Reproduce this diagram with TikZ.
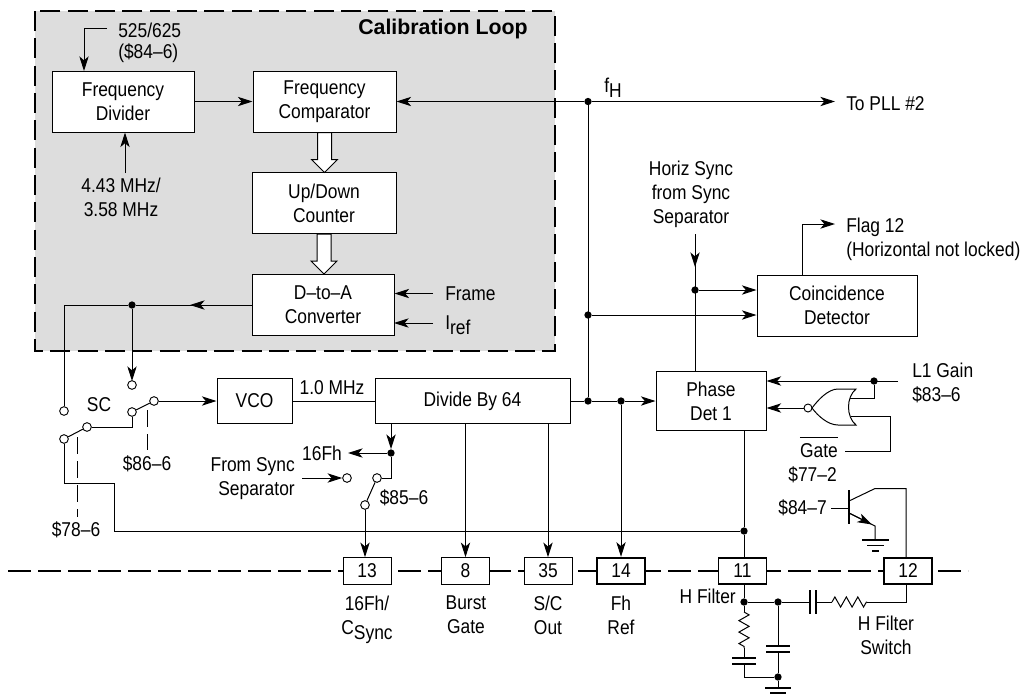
\documentclass[tikz,border=0pt]{standalone}
\usepackage{fontspec}
\setmainfont[FakeStretch=0.87]{Liberation Sans}
\newfontfamily\titlefont[BoldFont={Liberation Sans Bold}]{Liberation Sans}
\usetikzlibrary{positioning,calc,arrows.meta,decorations.pathmorphing}
\newcommand{\sbs}[1]{\raisebox{-4pt}[\height][0pt]{#1}}
\definecolor{loopgray}{HTML}{DDDDDD}
\tikzset{
  wire/.style={line width=.75pt},
  arr/.style={wire,-{Stealth[length=11pt,width=7pt,inset=3pt]}},
  link/.style={line width=.7pt,dash pattern=on 13pt off 5pt},
  blockbox/.style={draw,fill=white,line width=.75pt,align=center,inner sep=0pt,minimum height=45.75pt},
  pinbox/.style={draw,fill=white,line width=.75pt,inner sep=0pt,minimum width=36pt,minimum height=20pt},
  thickpin/.style={pinbox,line width=1.3pt},
  lbl/.style={inner sep=0pt,align=center},
  dot/.style={circle,fill=black,inner sep=0pt,minimum size=5.5pt},
  term/.style={circle,draw,fill=white,line width=.7pt,inner sep=0pt,minimum size=6.5pt},
  plate/.style={line width=.8pt},
  resistor/.style={wire,decorate,decoration={zigzag,segment length=8.6pt,amplitude=3.8pt}},
  hollow/.pic={\draw[fill=white,line width=.75pt] (-7,0) -- (7,0) -- (7,27) -- (13,27) -- (0,40) -- (-13,27) -- (-7,27) -- cycle;}
}
\begin{document}
\begin{tikzpicture}[x=.75pt,y=-.75pt,font=\fontsize{15pt}{18pt}\selectfont]
  \useasboundingbox (0,0) rectangle (1020,694);
  \draw[fill=loopgray,line width=1.6pt,dash pattern=on 15pt off 5.5pt] (35,11) rectangle (555,351);
  \node[lbl,font=\titlefont\fontsize{16pt}{18pt}\selectfont\bfseries] (looptitle) at (443,29) {Calibration Loop};
  % pin line
  \coordinate (busl) at (8,571);
  \coordinate (busr) at (968,571);
  \draw[line width=1.6pt,dash pattern=on 17pt off 5.5pt] (busl) -- (busr);
  % blocks
  \node[blockbox,minimum width=106.5pt] (divider) at (123,101.5) {Frequency\\Divider};
  \node[blockbox,minimum width=107.25pt] (comparator) at (324.5,101.5) {Frequency\\Comparator};
  \node[blockbox,minimum width=108pt] (counter) at (324,203) {Up/Down\\Counter};
  \node[blockbox,minimum width=106.5pt] (dac) at (323,305) {D--to--A\\Converter};
  \node[blockbox,minimum width=56.25pt,minimum height=33.75pt] (vco) at (254.5,401) {VCO};
  \node[blockbox,minimum width=146.25pt,minimum height=33.75pt] (divide) at (472.5,401) {Divide By 64};
  \node[blockbox,minimum width=82.5pt,minimum height=44.25pt] (phase) at (711,401) {Phase\\Det 1};
  \node[blockbox,minimum width=120pt] (coinc) at (837,305.5) {Coincidence\\Detector};
  % pins
  \node[pinbox] (pinA) at (367,571) {13};
  \node[pinbox] (pinB) at (465.5,571) {8};
  \node[pinbox] (pinC) at (548,571) {35};
  \node[thickpin] (pinD) at (621,571) {14};
  \node[thickpin] (pinE) at (742.5,571) {11};
  \node[thickpin] (pinF) at (908,571) {12};
  \node[lbl] at (367,615) {16Fh/\\C\sbs{Sync}};
  \node[lbl] at (466,615) {Burst\\Gate};
  \node[lbl] at (548,615) {S/C\\Out};
  \node[lbl] at (621,615) {Fh\\Ref};
  \node[lbl,anchor=east] (hfilter) at (736,596) {H Filter};
  \node[lbl] (hswitch) at (886,635) {H Filter\\Switch};
  % calibration loop
  \pic at (comparator.south) {hollow};
  \pic at (counter.south) {hollow};
  \node[lbl,anchor=west,align=left] (modelbl) at (118,43) {525/625\\[-2.5pt](\$84--6)};
  \coordinate (modeend) at (107,28);
  \draw[arr] (modeend) -- (84,28) -- (84,71);
  \node[lbl] (clklbl) at (121,197) {4.43 MHz/\\3.58 MHz};
  \coordinate (clkend) at (125,173);
  \draw[arr] (clkend) -- (clkend |- divider.south);
  \draw[arr] (divider) -- (comparator);
  \node[lbl,anchor=west] (framelbl) at (445,293.5) {Frame};
  \node[lbl,anchor=west] (ireflbl) at (445,322) {I\sbs{ref}};
  \draw[arr] (framelbl.west)++(-12,0) -- (dac.east |- framelbl);
  \draw[arr] (ireflbl.west)++(-12,1) -- (394,323);
  % fH and outputs
  \node[dot] (fhdot) at (588,101.5) {};
  \node[dot] (cddot) at (588,315) {};
  \node[dot] (pddot) at (588,401) {};
  \node[dot] (fhref) at (621,401) {};
  \node[lbl,anchor=west] (pll) at (846,104) {To PLL \#2};
  \coordinate (pllend) at (835,101.5);
  \node[lbl,anchor=west] (fhlbl) at (604,85) {f\sbs{H}};
  \draw[arr] (fhdot) -- (comparator.east);
  \draw[arr] (fhdot) -- (pllend);
  \draw[wire] (fhdot) -- (pddot);
  \draw[arr] (cddot) -- (cddot -| coinc.west);
  \draw[wire] (divide.east) -- (pddot);
  \draw[wire] (pddot) -- (fhref);
  \draw[arr] (fhref) -- (phase.west);
  \draw[arr] (fhref) -- (pinD.north);
  \draw[arr] (pinB |- divide.south) -- (pinB.north);
  \draw[arr] (pinC |- divide.south) -- (pinC.north);
  \draw[wire] (vco) -- (divide);
  \node[lbl] (freqlbl) at (332,388) {1.0 MHz};
  % coincidence detector
  \node[lbl] (synclbl) at (691,194) {Horiz Sync\\from Sync\\Separator};
  \coordinate (syncend) at (695,234);
  \node[dot] (syncdot) at (695,290) {};
  \draw[arr] (syncend) -- (695,267);
  \draw[wire] (695,262) -- (syncend |- phase.north);
  \draw[arr] (syncdot) -- (syncdot -| coinc.west);
  \coordinate (flagend) at (835,224);
  \node[lbl,anchor=west,align=left] (flaglbl) at (846,239) {Flag 12\\(Horizontal not locked)};
  \draw[arr] (coinc.north -| 802,0) -- (802,224) -- (flagend);
  % gate
  \node[lbl,anchor=west,align=left] (gainlbl) at (912,383) {L1 Gain\\\$83--6};
  \coordinate (gainend) at (898,381);
  \node[dot] (gaindot) at (874,381) {};
  \node[term,minimum size=6pt] (bubble) at (808,408) {};
  \coordinate (gatea) at (850,398);
  \coordinate (gateb) at (851,416);
  \draw[wire] (856,389) .. controls (846,397) and (846,417) .. (856,425)
     -- (838,425) .. controls (828,425) and (818,416) .. (812,408)
     .. controls (818,400) and (828,389) .. (838,389) -- cycle;
  \draw[arr] (gainend) -- (gainend -| phase.east);
  \draw[arr] (bubble) -- (bubble -| phase.east);
  \draw[wire] (gaindot) |- (gatea);
  \node[lbl] (gatelbl) at (819,451) {Gate};
  \node[lbl,anchor=east] (reglbl) at (837,475) {\$77--2};
  \draw[wire] ($(gatelbl.north west)+(0,-6)$) -- ($(gatelbl.north east)+(0,-6)$);
  \coordinate (gateturn) at (890,416);
  \draw[wire] (gateb) -- (gateturn) |- (845,451);
  % filter line from phase det
  \node[dot] (pindot) at (744,531) {};
  \node[dot] (hdot) at (744,602) {};
  \node[term] (swa) at (64,439) {};
  \node[term] (swb) at (87,427) {};
  \node[term] (swc) at (64,411) {};
  \node[term] (swd) at (132,412) {};
  \node[term] (swe) at (154,401) {};
  \node[term] (swf) at (132,385) {};
  \node[lbl] (sclbl) at (99,405) {SC};
  \draw[wire] (744,430) -- (pindot);
  \draw[wire] (pindot) -- (744,557);
  \draw[wire] (pindot) -- (114,531) -- (114,483) -- (64,483) -- (swa);
  \draw[wire] (swa) -- (swb);
  \draw[wire] (swb) -| (swd);
  \draw[wire] (swd) -- (swe);
  \draw[arr] (swe) -- (swe -| vco.west);
  % dac out
  \node[dot] (dacdot) at (132,305) {};
  \draw[arr] (dac.west) -- (190,305);
  \draw[wire] (dac.west) -- (dacdot);
  \draw[wire] (dacdot) -- (64,305) -- (swc);
  \draw[arr] (dacdot) -- (132,381);
  % switch links
  \node[lbl] (lnka) at (147,464) {\$86--6};
  \node[lbl] (lnkb) at (76,530) {\$78--6};
  \draw[link] (147,410) -- (147,450);
  \draw[link] (77,437) -- (77,517);
  % divider taps
  \node[dot] (tapdot) at (391,453) {};
  \node[term] (swg) at (377,478) {};
  \node[term] (swh) at (365,505) {};
  \node[term] (swi) at (347,478) {};
  \node[lbl] (taplbl) at (322,453) {16Fh};
  \node[lbl,align=right,anchor=east] (seplbl) at (295,479) {From Sync\\Separator};
  \node[lbl] (swlbl) at (404,498) {\$85--6};
  \coordinate (sepend) at (302,478);
  \draw[arr] (391,424) -- (tapdot);
  \draw[arr] (tapdot) -- (348,453);
  \draw[wire] (tapdot) |- (swg);
  \draw[wire] (swg) -- (swh);
  \draw[arr] (swh) -- (swh |- pinA.north);
  \draw[arr] (sepend) -- (swi);
  % transistor
  \node[lbl,anchor=east] (trlbl) at (827,508) {\$84--7};
  \coordinate (trb) at (849,508);
  \coordinate (trc) at (849,501);
  \coordinate (tre) at (849,513);
  \draw[wire] (831,508) -- (trb);
  \draw[line width=.8pt] (849,490) -- (849,524);
  \draw[wire] (trc) -- (875,488.5) -- (906,488.5) -- (906,557);
  \draw[wire] (tre) -- (875,526) -- (875,540);
  \draw[arr] (tre) -- (872,524.5);
  \draw[plate] (862,540) -- (889,540) (867,545.5) -- (884,545.5) (872,551) -- (879,551);
  % filter network
  \node[dot] (fdot) at (778,602) {};
  \node[dot] (gdot) at (778,677) {};
  \draw[wire] (744,584) -- (hdot);
  \draw[wire] (hdot) -- (fdot);
  \draw[wire] (fdot) -- (810,602);
  \draw[plate] (810,590) -- (810,614) (816,590) -- (816,614);
  \draw[wire] (816,602) -- (832,602);
  \draw[resistor] (832,602) -- (867,602);
  \draw[wire] (867,602) -- (906,602) -- (906,584);
  \draw[wire] (hdot) -- (744,612);
  \draw[resistor] (744,612) -- (744,648);
  \draw[wire] (744,648) -- (744,658);
  \draw[plate] (732,658) -- (756,658) (732,664) -- (756,664);
  \draw[wire] (744,664) -- (744,677) -- (gdot);
  \draw[wire] (fdot) -- (778,646);
  \draw[plate] (766,646) -- (790,646) (766,652) -- (790,652);
  \draw[wire] (778,652) -- (gdot);
  \draw[wire] (gdot) -- (778,688);
  \draw[plate] (765,688) -- (791,688) (770,693) -- (786,693);
\end{tikzpicture}
\end{document}
